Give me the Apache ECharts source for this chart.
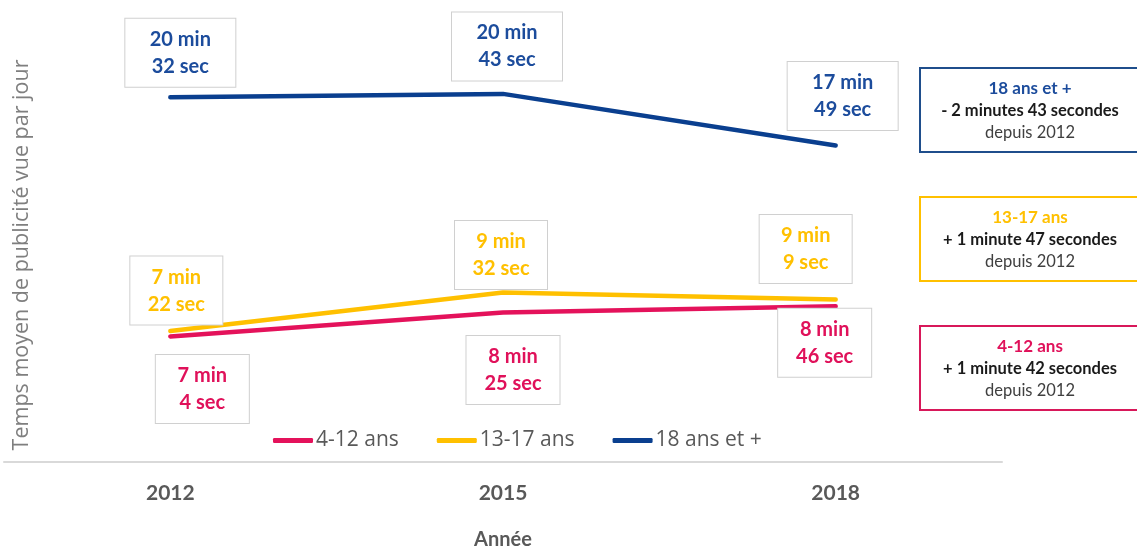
<!DOCTYPE html>
<html>
<head>
<meta charset="utf-8">
<script src="https://cdn.jsdelivr.net/npm/echarts@6/dist/echarts.min.js"></script>
<style>
  html, body { margin: 0; padding: 0; background: #fff; }
  #chart { width: 1137px; height: 548px; }
</style>
</head>
<body>
<div id="chart"></div>
<script>
const years = ['2012', '2015', '2018'];

const kidsMin = [7, 8, 8];
const kidsSec = [4, 25, 46];
const teenMin = [7, 9, 9];
const teenSec = [22, 32, 9];
const adultMin = [20, 20, 17];
const adultSec = [32, 43, 49];

const seriesNames = ['4-12 ans', '13-17 ans', '18 ans et +'];
const deltaTexts = ['+ 1 minute 42 secondes', '+ 1 minute 47 secondes', '- 2 minutes 43 secondes'];

const BLUE = '#0a3f8f';
const BLUE_TXT = '#1c4c9c';
const YELLOW = '#ffc000';
const PINK = '#e4125b';
const FONT_C = 'Lato, "Open Sans", sans-serif';
const FONT_S = '"Open Sans", "Noto Sans", sans-serif';

function toValues(mins, secs) {
  return mins.map((m, i) => m + secs[i] / 60);
}

// décalage des boîtes d'étiquettes
const labelPos = {
  kids: { pos: 'bottom', offsets: [[32, 18], [10, 23], [-11, 2]], width: 93 },
  teen: { pos: 'top', offsets: [[6, -6], [-2, -3], [-30, -16]], width: 92 },
  adult: { pos: 'top', offsets: [[10, -10], [4, -13], [7, -15]], width: 110 }
};

function buildData(mins, secs, layout, color) {
  return toValues(mins, secs).map((v, i) => ({
    value: v,
    label: {
      show: true,
      position: layout.pos,
      distance: 0,
      offset: layout.offsets[i],
      formatter: mins[i] + ' min\n' + secs[i] + ' sec',
      color: color,
      fontFamily: FONT_C,
      fontWeight: 'bold',
      fontSize: 20,
      lineHeight: 27,
      width: layout.width,
      align: 'center',
      backgroundColor: '#fff',
      borderColor: '#d0d0d0',
      borderWidth: 1,
      padding: [7, 0]
    }
  }));
}

function lineSeries(name, color, data, z) {
  return {
    name,
    type: 'line',
    data,
    z,
    symbol: 'circle',
    symbolSize: 1,
    itemStyle: { color },
    lineStyle: { color, width: 4.5, cap: 'round', join: 'round' },
    emphasis: { disabled: true },
    silent: true
  };
}

function sideBox(y, color, title, titleColor, delta) {
  return {
    type: 'group',
    children: [
      {
        type: 'rect',
        shape: { x: 920, y: y, width: 230, height: 84 },
        style: { fill: '#fff', stroke: color, lineWidth: 2 }
      },
      {
        type: 'text',
        style: {
          x: 1030,
          y: y + 42,
          align: 'center',
          verticalAlign: 'middle',
          text: '{a|' + title + '}\n{b|' + delta + '}\n{c|depuis 2012}',
          rich: {
            a: { fontSize: 17, fontWeight: 'bold', fill: titleColor, fontFamily: FONT_C, lineHeight: 23, align: 'center' },
            b: { fontSize: 16.5, fontWeight: 'bold', fill: '#1a1a1a', fontFamily: FONT_C, lineHeight: 22, align: 'center' },
            c: { fontSize: 16.5, fill: '#404040', fontFamily: FONT_C, lineHeight: 21, align: 'center' }
          }
        }
      }
    ]
  };
}

const chart = echarts.init(document.getElementById('chart'));
chart.setOption({
  animation: false,
  grid: { left: 4, right: 135, top: 0, bottom: 86, outerBoundsMode: 'none', containLabel: false },
  legend: {
    top: 425,
    left: 268,
    itemWidth: 40,
    itemHeight: 5,
    itemGap: 38,
    icon: 'roundRect',
    selectedMode: false,
    textStyle: { fontFamily: FONT_S, fontSize: 21, color: '#595959', padding: [0, 0, 0, -2] },
    data: seriesNames
  },
  xAxis: {
    type: 'category',
    data: years,
    boundaryGap: true,
    name: 'Année',
    nameLocation: 'middle',
    nameGap: 68,
    nameTextStyle: { fontFamily: FONT_C, fontWeight: 'bold', fontSize: 20, color: '#595959' },
    axisLine: { lineStyle: { color: '#d9d9d9', width: 2 } },
    axisTick: { show: false },
    axisLabel: { margin: 21, fontFamily: FONT_C, fontWeight: 'bold', fontSize: 21, color: '#595959' }
  },
  yAxis: {
    type: 'value',
    min: 0,
    max: 26,
    show: false
  },
  graphic: [
    {
      type: 'text',
      rotation: Math.PI / 2,
      x: 22,
      y: 255,
      style: {
        text: 'Temps moyen de publicité vue par jour',
        align: 'center',
        verticalAlign: 'middle',
        fontFamily: FONT_S,
        fontSize: 21.5,
        fill: '#7f7f7f'
      }
    },
    sideBox(68, '#1f4e8c', '18 ans et +', BLUE_TXT, deltaTexts[2]),
    sideBox(197, YELLOW, '13-17 ans', YELLOW, deltaTexts[1]),
    sideBox(326, '#d8185a', '4-12 ans', '#e0115a', deltaTexts[0])
  ],
  series: [
    lineSeries(seriesNames[0], PINK, buildData(kidsMin, kidsSec, labelPos.kids, '#e0115a'), 2),
    lineSeries(seriesNames[1], YELLOW, buildData(teenMin, teenSec, labelPos.teen, YELLOW), 3),
    lineSeries(seriesNames[2], BLUE, buildData(adultMin, adultSec, labelPos.adult, BLUE_TXT), 4)
  ]
});
</script>
</body>
</html>
